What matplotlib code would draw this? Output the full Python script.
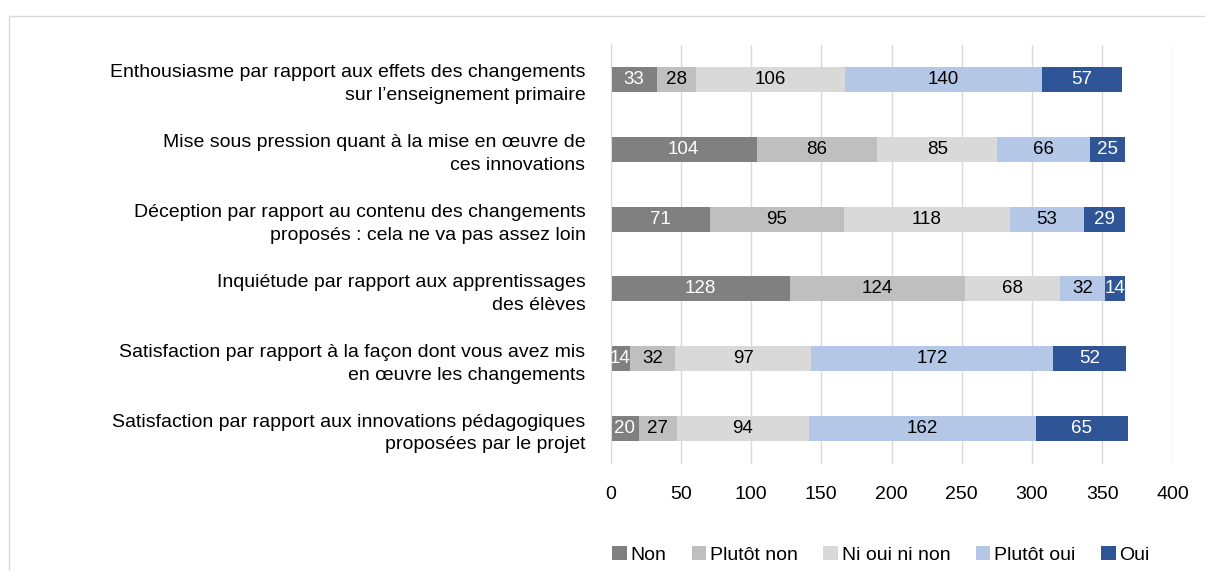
import matplotlib
matplotlib.use('Agg')
import matplotlib.pyplot as plt
import matplotlib.patches as mpatches
from matplotlib import font_manager
import numpy as np

names = {f.name for f in font_manager.fontManager.ttflist}
FONT = 'Liberation Sans Narrow' if 'Liberation Sans Narrow' in names else 'Liberation Sans'
plt.rcParams['font.family'] = [FONT, 'DejaVu Sans']

categories = [
    "Enthousiasme par rapport aux effets des changements\nsur l\u2019enseignement primaire",
    "Mise sous pression quant \u00e0 la mise en \u0153uvre de\nces innovations",
    "D\u00e9ception par rapport au contenu des changements\npropos\u00e9s : cela ne va pas assez loin",
    "Inqui\u00e9tude par rapport aux apprentissages\ndes \u00e9l\u00e8ves",
    "Satisfaction par rapport \u00e0 la fa\u00e7on dont vous avez mis\nen \u0153uvre les changements",
    "Satisfaction par rapport aux innovations p\u00e9dagogiques\npropos\u00e9es par le projet",
]
series = ["Non", "Plut\u00f4t non", "Ni oui ni non", "Plut\u00f4t oui", "Oui"]
non           = [33, 104, 71, 128, 14, 20]
plutot_non    = [28, 86, 95, 124, 32, 27]
ni_oui_ni_non = [106, 85, 118, 68, 97, 94]
plutot_oui    = [140, 66, 53, 32, 172, 162]
oui           = [57, 25, 29, 14, 52, 65]
values = [non, plutot_non, ni_oui_ni_non, plutot_oui, oui]

colors = ['#808080', '#bfbfbf', '#d9d9d9', '#b4c7e7', '#2f5597']
text_colors = ['white', 'black', 'black', 'black', 'white']

W, H = 1205, 571
AX_L, AX_R, AX_T, AX_B = 610.5, 1172.5, 44.5, 463.5
fig = plt.figure(figsize=(W/100, H/100), dpi=100)
ax = fig.add_axes([AX_L/W, 1 - AX_B/H, (AX_R-AX_L)/W, (AX_B-AX_T)/H])

# light border of the chart area
fig.patches.append(mpatches.Rectangle((8.5/W, -0.1), 1.2, 1 - 15.5/H + 0.1,
                                      transform=fig.transFigure, fill=False,
                                      edgecolor='#d9d9d9', lw=1))

y = np.arange(len(categories))
left = np.zeros(len(categories))
for vals, name, c, tc in zip(values, series, colors, text_colors):
    bars = ax.barh(y, vals, left=left, height=0.36, color=c, label=name)
    for b, v in zip(bars, vals):
        ax.text(b.get_x() + b.get_width()/2, b.get_y() + b.get_height()/2,
                str(v), ha='center', va='center', color=tc, fontsize=13.5)
    left += np.array(vals)

ax.set_xlim(0, 400)
ax.set_xticks(range(0, 401, 50))
ax.set_ylim(len(categories) - 0.5, -0.5)
ax.set_yticks(y)
ax.set_yticklabels(categories, fontsize=14, ha='right', linespacing=1.45)
ax.tick_params(axis='y', length=0, pad=18)
ax.tick_params(axis='x', length=0, labelsize=14, pad=16.5)
ax.grid(axis='x', color='#d9d9d9', lw=1)
ax.set_axisbelow(True)
for s in ['top', 'right', 'bottom']:
    ax.spines[s].set_visible(False)
ax.spines['left'].set_color('#d9d9d9')

ax.legend(loc='center',
          bbox_to_anchor=((881 - AX_L)/(AX_R - AX_L), -(555 - AX_B)/(AX_B - AX_T)),
          ncol=5, frameon=False, fontsize=14, handlelength=0.75, handleheight=0.75,
          handletextpad=0.2, columnspacing=1.3, borderpad=0)

fig.savefig('out.png', dpi=100)
